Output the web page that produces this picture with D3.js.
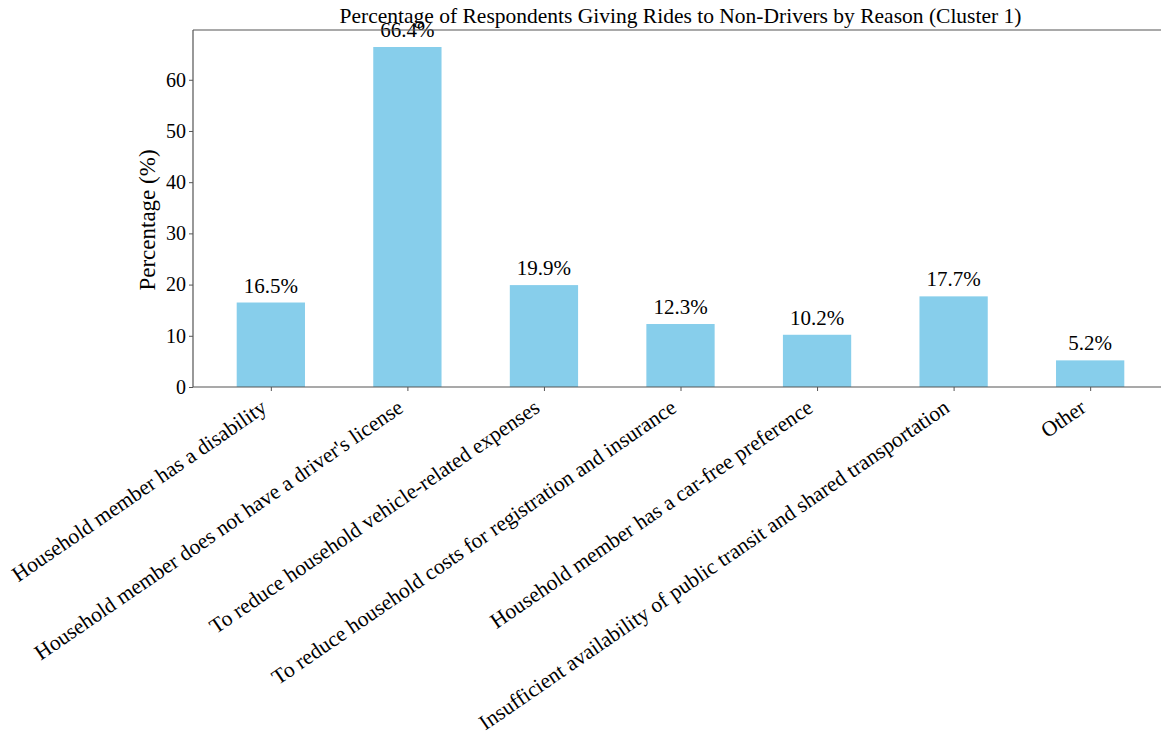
<!DOCTYPE html>
<html><head><meta charset="utf-8">
<script src="https://cdn.jsdelivr.net/npm/d3@7"></script>
<style>body{margin:0;background:#fff;} text{font-family:"Liberation Serif","Times New Roman",serif;fill:#000;}</style>
</head><body><svg id="c" width="1161" height="737"></svg>
<script>
const categories = [
  "Household member has a disability",
  "Household member does not have a driver's license",
  "To reduce household vehicle-related expenses",
  "To reduce household costs for registration and insurance",
  "Household member has a car-free preference",
  "Insufficient availability of public transit and shared transportation",
  "Other"
];
const values = [16.5, 66.4, 19.9, 12.3, 10.2, 17.7, 5.2];
const yTicks = [0, 10, 20, 30, 40, 50, 60];
const title = "Percentage of Respondents Giving Rides to Non-Drivers by Reason (Cluster 1)";
const yLabel = "Percentage (%)";

const svg = d3.select("#c");
const L = 193, R = 1168, T = 30, B = 387;
const x = d3.scaleLinear().domain([-0.57, categories.length - 1 + 0.57]).range([L, R]);
const y = d3.scaleLinear().domain([0, 69.72]).range([B, T]);
const bw = x(0.25) - x(-0.25);

svg.append("g").selectAll("rect").data(values).join("rect")
  .attr("x", (d, i) => x(i) - bw / 2).attr("width", bw)
  .attr("y", d => y(d)).attr("height", d => B - y(d))
  .attr("fill", "#87CEEB");

svg.append("g").selectAll("text").data(values).join("text")
  .attr("x", (d, i) => x(i)).attr("y", d => y(d) - 10)
  .attr("text-anchor", "middle").attr("font-size", 21)
  .text(d => d.toFixed(1) + "%");

// spines
const sp = svg.append("g").attr("stroke", "#555").attr("stroke-width", 1.2).attr("fill", "none");
sp.append("path").attr("d", `M${L},${T}V${B}H${R}V${T}H${L}`);

// y axis
const ya = svg.append("g").attr("transform", `translate(${L},0)`)
  .call(d3.axisLeft(y).tickValues(yTicks).tickSize(4).tickPadding(3).tickFormat(d3.format("d")));
ya.select(".domain").remove();
ya.selectAll("line").attr("stroke", "#555");
ya.selectAll("text").attr("font-size", 20).style("font-family", '"Liberation Serif",serif');

// x axis
const xa = svg.append("g").attr("transform", `translate(0,${B})`)
  .call(d3.axisBottom(x).tickValues(d3.range(categories.length)).tickSize(4).tickFormat(""));
xa.select(".domain").remove();
xa.selectAll("line").attr("stroke", "#555");

const ang = 34.5, th = ang * Math.PI / 180, fs = 21.5, asc = 0.89 * fs, desc = 0.22 * fs;
svg.append("g").selectAll("text").data(categories).join("text")
  .attr("font-size", fs).attr("text-anchor", "end")
  .attr("transform", (d, i) => {
    const ex = x(i) - desc * Math.sin(th);
    const ey = B + 8 + asc * Math.cos(th);
    return `translate(${ex},${ey}) rotate(${-ang})`;
  })
  .text(d => d);

svg.append("text").attr("x", (L + R) / 2).attr("y", 23).attr("text-anchor", "middle")
  .attr("font-size", 21.5).text(title);

svg.append("text").attr("transform", `translate(155,220) rotate(-90)`)
  .attr("text-anchor", "middle").attr("font-size", 23).text(yLabel);
</script></body></html>
